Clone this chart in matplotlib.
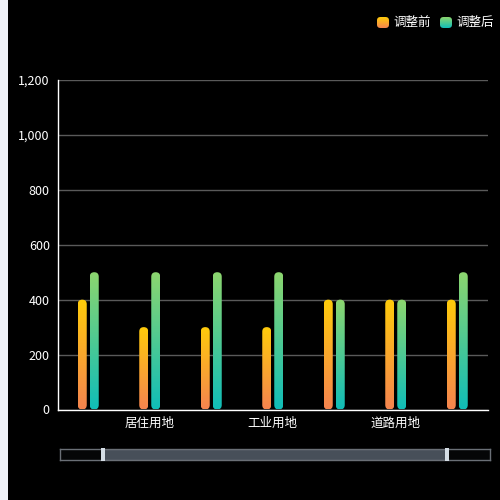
import numpy as np
import matplotlib
matplotlib.use("Agg")
import matplotlib.pyplot as plt
from matplotlib.patches import FancyBboxPatch, Rectangle
from matplotlib.colors import LinearSegmentedColormap
from matplotlib.ticker import FuncFormatter

plt.rcParams['font.family'] = ['Noto Sans CJK SC', 'DejaVu Sans']

# ---- data ----
categories = ["", "居住用地", "", "工业用地", "", "道路用地", ""]
series_names = ["调整前", "调整后"]
before = [400, 300, 300, 300, 400, 400, 400]
after = [500, 500, 500, 500, 400, 400, 500]
y_ticks = [0, 200, 400, 600, 800, 1000, 1200]
zoom_start, zoom_end = 10, 90  # slider range in percent

# ---- style ----
before_cols = ("#F5844F", "#FFCC0A")  # bottom, top
after_cols = ("#10BDB8", "#8DD66E")
BG = "#000000"

fig = plt.figure(figsize=(5, 5), dpi=100, facecolor=BG)
# light page strip on the left
fig.patches.append(Rectangle((0, 0), 8 / 500, 1, transform=fig.transFigure,
                             facecolor="#F0F2F8", edgecolor="none", zorder=0))

ax = fig.add_axes([57.5 / 500, (500 - 409.5) / 500, (488 - 57.5) / 500, (409.5 - 80) / 500])
ax.set_facecolor(BG)
n = len(categories)
ax.set_xlim(-0.5, n - 0.5)
ax.set_ylim(0, 1200)

ax.set_yticks(y_ticks)
ax.yaxis.set_major_formatter(FuncFormatter(lambda v, p: f"{int(v):,}"))
ax.set_xticks(range(n))
ax.set_xticklabels(categories)
ax.tick_params(axis="both", length=0, colors="white", labelsize=9)
ax.tick_params(axis="y", pad=5.5)
ax.tick_params(axis="x", pad=5)
ax.grid(axis="y", color="#5a5a5a", linewidth=1)
ax.set_axisbelow(True)
for s in ["top", "right"]:
    ax.spines[s].set_visible(False)
for s in ["left", "bottom"]:
    ax.spines[s].set_color("white")
    ax.spines[s].set_linewidth(1)

# pixel scaling for rounded bar caps
fig.canvas.draw()
p0 = ax.transData.transform((0, 0))
p1 = ax.transData.transform((1, 1))
x_per_px = 1 / (p1[0] - p0[0])
y_per_px = 1 / (p1[1] - p0[1])
aspect = y_per_px / x_per_px

bw = 9 * x_per_px
off = 6 * x_per_px
grad = np.linspace(0, 1, 256).reshape(-1, 1)


def gbar(xc, h, cols):
    cmap = LinearSegmentedColormap.from_list("g", list(cols))
    x0 = xc - bw / 2
    patch = FancyBboxPatch((x0, 0), bw, h,
                           boxstyle=f"round,pad=0,rounding_size={bw / 2}",
                           mutation_aspect=aspect, facecolor="none",
                           edgecolor="none", zorder=3)
    ax.add_patch(patch)
    im = ax.imshow(grad, extent=[x0, x0 + bw, 0, h], origin="lower",
                   aspect="auto", cmap=cmap, zorder=3, interpolation="bilinear")
    im.set_clip_path(patch)


for i in range(n):
    gbar(i - off, before[i], before_cols)
    gbar(i + off, after[i], after_cols)
ax.set_xlim(-0.5, n - 0.5)
ax.set_ylim(0, 1200)

# ---- legend ----
def legend_item(x_px, label, cols):
    lax = fig.add_axes([x_px / 500, (500 - 28) / 500, 12 / 500, 11 / 500])
    lax.set_axis_off()
    lax.set_xlim(0, 1)
    lax.set_ylim(0, 1)
    cmap = LinearSegmentedColormap.from_list("g", list(cols))
    patch = FancyBboxPatch((0, 0), 1, 1, boxstyle="round,pad=0,rounding_size=0.3",
                           facecolor="none", edgecolor="none", transform=lax.transAxes)
    lax.add_patch(patch)
    im = lax.imshow(grad, extent=[0, 1, 0, 1], origin="lower", aspect="auto", cmap=cmap)
    im.set_clip_path(patch)
    fig.text((x_px + 16) / 500, (500 - 22.5) / 500, label, color="white",
             fontsize=9, va="center", ha="left")


legend_item(377, series_names[0], before_cols)
legend_item(440, series_names[1], after_cols)

# ---- data zoom slider ----
sax = fig.add_axes([60 / 500, (500 - 460) / 500, 430 / 500, 11 / 500])
sax.set_xlim(0, 100)
sax.set_ylim(0, 1)
sax.set_facecolor("#050607")
sax.set_xticks([])
sax.set_yticks([])
for s in sax.spines.values():
    s.set_color("#6a6f76")
    s.set_linewidth(1)
sax.add_patch(Rectangle((zoom_start, 0), zoom_end - zoom_start, 1,
                        facecolor="#474f59", edgecolor="#8a949e", linewidth=0.8))
for v in (zoom_start, zoom_end):
    sax.add_patch(Rectangle((v - 0.4, -0.05), 0.8, 1.1, facecolor="#d4dde5",
                            edgecolor="none", clip_on=False, zorder=4))

fig.savefig("out.png", dpi=100, facecolor=BG)
